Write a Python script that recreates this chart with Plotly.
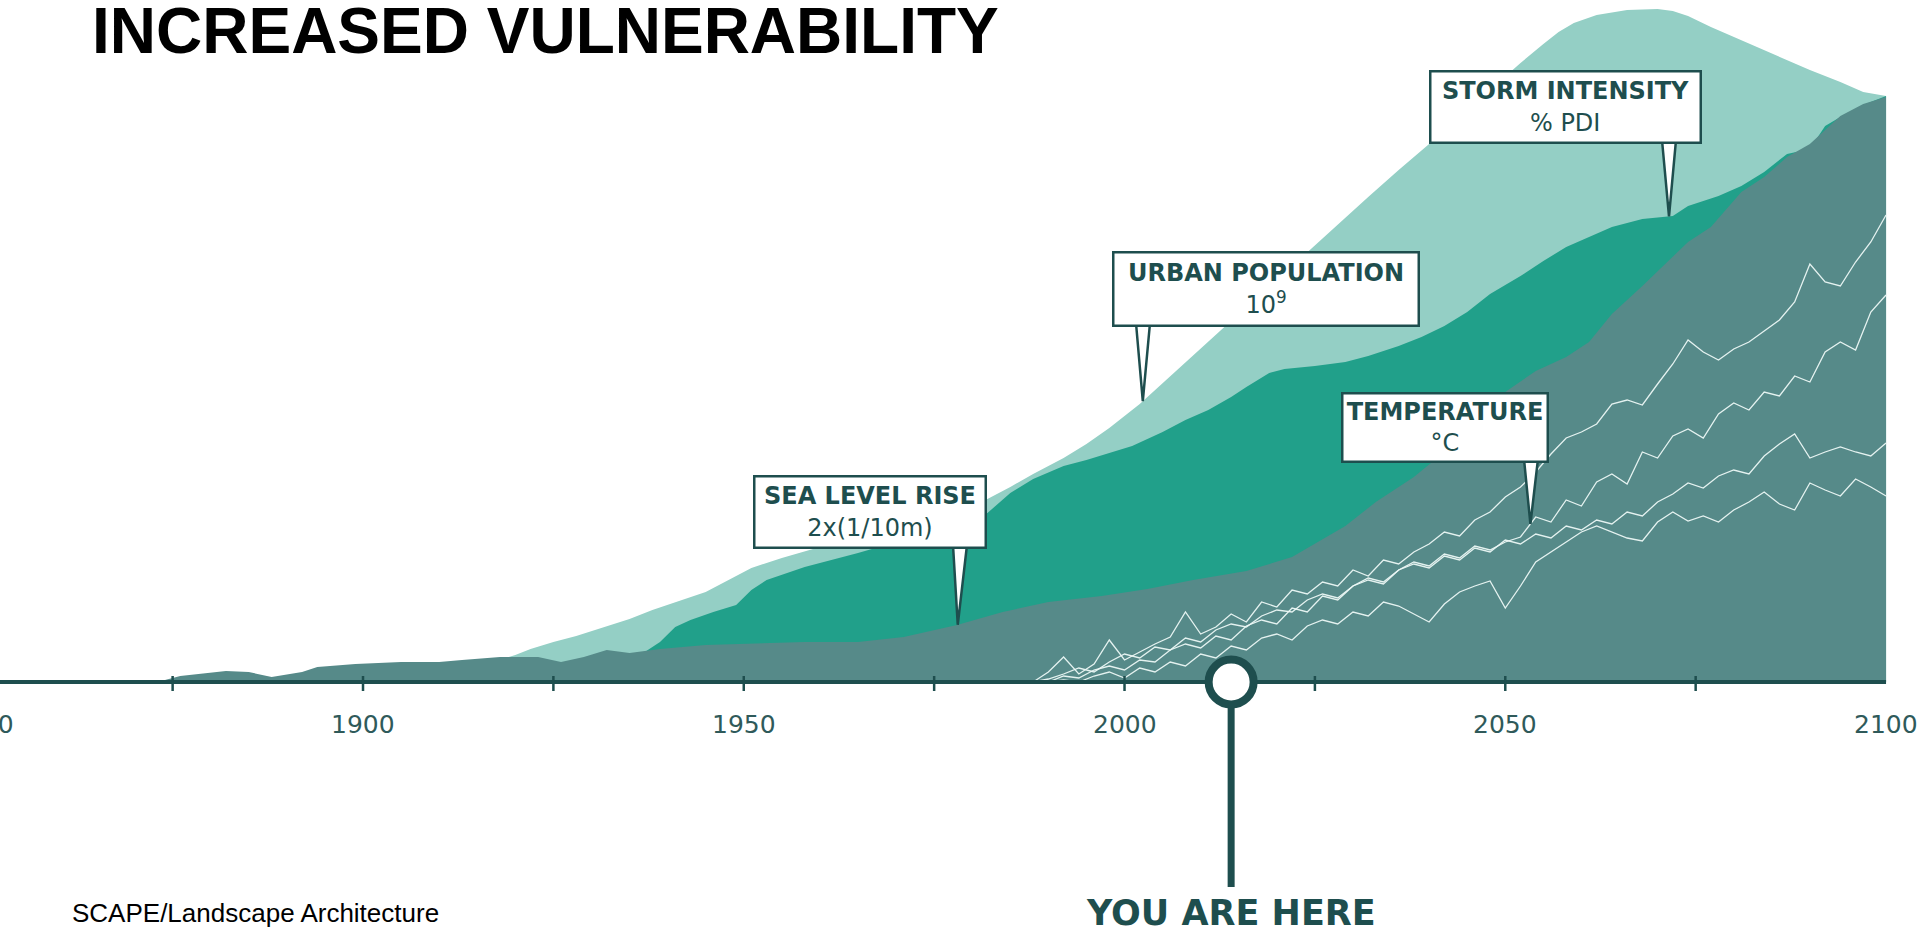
import plotly.graph_objects as go
import numpy as np

# ---------------- data (relative index, 0 = baseline) ----------------
SEA_YEARS = [1873, 1876, 1882, 1885, 1888, 1892, 1894, 1899, 1905, 1910, 1913, 1918, 1923, 1926,
             1929, 1932, 1935, 1939, 1945, 1952, 1958, 1965, 1971, 1978, 1984, 1990, 1997, 2003,
             2009, 2016, 2022, 2029, 2033, 2038, 2042, 2046, 2050, 2054, 2058, 2061, 2064, 2068,
             2071, 2074, 2077, 2081, 2084, 2087, 2090, 2094, 2097, 2100]
SEA_VALUES = [0, 6, 11, 10, 5, 10, 15, 18, 20, 20, 22, 25, 25, 20,
              25, 32, 29, 33, 37, 39, 40, 40, 45, 57, 70, 80, 86, 93,
              102, 111, 125, 156, 180, 205, 230, 262, 290, 311, 325, 340, 368, 396,
              418, 440, 455, 490, 505, 525, 538, 566, 578, 585]

POP_YEARS = [1917, 1920, 1922, 1925, 1928, 1931, 1935, 1938, 1941, 1945, 1948, 1951, 1955, 1960,
             1965, 1970, 1975, 1980, 1982, 1985, 1988, 1992, 1995, 1998, 2002, 2005, 2008, 2012,
             2016, 2020, 2024, 2028, 2032, 2036, 2040, 2044, 2048, 2052, 2055, 2057, 2059, 2062,
             2066, 2070, 2072, 2074, 2077, 2081, 2084, 2087, 2090, 2094, 2097, 2100]
POP_VALUES = [20, 27, 33, 40, 46, 53, 63, 72, 80, 90, 102, 114, 124, 135,
              146, 158, 168, 178, 183, 195, 208, 224, 238, 254, 278, 299, 320, 347,
              375, 402, 430, 457, 485, 512, 538, 565, 592, 619, 638, 650, 659, 667,
              672, 673, 671, 666, 655, 642, 632, 622, 612, 600, 590, 586]

STORM_YEARS = [1937, 1939, 1941, 1943, 1946, 1949, 1951, 1953, 1958, 1965, 1970, 1975, 1980, 1982,
               1985, 1988, 1992, 1995, 1998, 2001, 2005, 2008, 2011, 2014, 2016, 2019, 2021, 2025,
               2029, 2032, 2036, 2039, 2042, 2045, 2048, 2052, 2055, 2058, 2061, 2064, 2068, 2072,
               2074, 2078, 2081, 2084, 2087, 2090, 2092, 2094, 2097, 2100]
STORM_VALUES = [30, 40, 55, 62, 70, 77, 92, 102, 115, 129, 140, 152, 164, 169,
                189, 203, 216, 222, 229, 236, 250, 262, 272, 285, 295, 309, 313, 316,
                320, 326, 336, 345, 356, 370, 388, 406, 421, 435, 445, 455, 463, 466,
                476, 486, 496, 510, 528, 533, 556, 565, 577, 586]

TEMP_YEARS = list(range(1988, 2101, 2))
TEMP_A = [0, 10, 25, 8, 18, 42, 22, 30, 38, 45, 70, 48, 55, 68, 60, 80, 75, 92, 88, 100,
          96, 112, 106, 122, 118, 130, 138, 150, 146, 162, 170, 185, 195, 210, 228, 244, 250, 258,
          278, 282, 277, 298, 318, 342, 330, 322, 333, 340, 351, 362, 380, 418, 400, 396, 420, 440, 467]
TEMP_B = [0, 3, 8, 14, 10, 20, 28, 24, 35, 32, 44, 40, 52, 58, 55, 66, 72, 70, 82, 88,
          84, 96, 102, 98, 112, 120, 116, 128, 124, 136, 132, 140, 145, 165, 160, 182, 176, 200,
          208, 198, 230, 224, 246, 253, 244, 268, 279, 272, 290, 286, 306, 300, 330, 340, 332, 370, 387]
TEMP_C = [0, 0, 6, 4, 12, 16, 12, 22, 20, 32, 38, 34, 46, 42, 56, 62, 58, 74, 70, 86,
          82, 96, 104, 100, 112, 118, 114, 126, 122, 134, 130, 142, 138, 148, 144, 156, 152, 162,
          158, 170, 166, 180, 188, 199, 194, 206, 212, 208, 226, 238, 248, 224, 230, 235, 230, 226, 239]
TEMP_D = [0, 0, 2, 0, 6, 10, 4, 14, 10, 20, 16, 28, 24, 36, 32, 44, 48, 42, 56, 62,
          58, 70, 66, 80, 76, 68, 60, 78, 90, 96, 101, 74, 96, 120, 130, 140, 150, 156,
          150, 144, 141, 160, 170, 161, 166, 160, 172, 180, 190, 178, 172, 199, 192, 186, 203, 195, 186]

TICK_YEARS = [1850, 1875, 1900, 1925, 1950, 1975, 2000, 2025, 2050, 2075]
TICK_LABELS = ["1850", "1900", "1950", "2000", "2050", "2100"]
AXIS_END_YEAR = 2100
NOW_YEAR = 2014

CALLOUT_TITLES = ["SEA LEVEL RISE", "URBAN POPULATION", "TEMPERATURE", "STORM INTENSITY"]
CALLOUT_UNITS = ["2x(1/10m)", "10<sup>9</sup>", "°C", "% PDI"]
CALLOUT_TIP_YEARS = [1978.1, 2002.4, 2053.3, 2071.5]

# ---------------- styling / layout ----------------
W, H = 1920, 934
X0, X1 = 1852.33, 2104.46          # visible year range
Y0, Y1 = -252, 682                 # visible value range (1 unit = 1 px)
PXY = W / (X1 - X0)

C_LIGHT = "#94cfc5"
C_MID = "#21a08a"
C_DARK = "#568a89"
C_INK = "#1e4e4e"
C_TEMP = "rgba(236,248,246,0.95)"


def yr(px):
    return X0 + px / PXY


def val(py):
    return 682 - py


def paper_x(year):
    return (year - X0) / (X1 - X0)


fig = go.Figure()

for xs, ys, col in [(POP_YEARS, POP_VALUES, C_LIGHT),
                    (STORM_YEARS, STORM_VALUES, C_MID),
                    (SEA_YEARS, SEA_VALUES, C_DARK)]:
    fig.add_trace(go.Scatter(x=xs, y=ys, mode="lines", fill="tozeroy",
                             line=dict(width=0, color=col), fillcolor=col,
                             hoverinfo="skip", showlegend=False))

for ys in [TEMP_A, TEMP_B, TEMP_C, TEMP_D]:
    fig.add_trace(go.Scatter(x=TEMP_YEARS, y=ys, mode="lines",
                             line=dict(width=1.3, color=C_TEMP),
                             hoverinfo="skip", showlegend=False))

# axis line and ticks
fig.add_trace(go.Scatter(x=[X0 - 5, AXIS_END_YEAR], y=[0, 0], mode="lines",
                         line=dict(width=4, color=C_INK), hoverinfo="skip", showlegend=False))
tx, ty = [], []
for t in TICK_YEARS:
    tx += [t, t, None]
    ty += [-9, 6, None]
fig.add_trace(go.Scatter(x=tx, y=ty, mode="lines", line=dict(width=2.5, color=C_INK),
                         hoverinfo="skip", showlegend=False))

# YOU ARE HERE marker
fig.add_trace(go.Scatter(x=[NOW_YEAR, NOW_YEAR], y=[-20, -205], mode="lines",
                         line=dict(width=7, color=C_INK), hoverinfo="skip", showlegend=False))
fig.add_trace(go.Scatter(x=[NOW_YEAR], y=[0], mode="markers",
                         marker=dict(size=45, color="white", line=dict(width=8, color=C_INK)),
                         hoverinfo="skip", showlegend=False))

annotations = []
for lab in TICK_LABELS:
    annotations.append(dict(x=paper_x(int(lab)), xref="paper", y=-42, yref="y",
                            text=lab, showarrow=False, xanchor="center", yanchor="middle",
                            font=dict(family="DejaVu Sans", size=25, color="#2f5a5a")))

annotations.append(dict(x=NOW_YEAR, y=-231, xref="x", yref="y", text="<b>YOU ARE HERE</b>",
                        showarrow=False, xanchor="center", yanchor="middle",
                        font=dict(family="DejaVu Sans", size=35, color=C_INK)))

annotations.append(dict(x=90 / W, y=1 - 31 / H, xref="paper", yref="paper",
                        text="<b>INCREASED VULNERABILITY</b>", showarrow=False,
                        xanchor="left", yanchor="middle",
                        font=dict(family="Liberation Sans, Arial", size=64, color="black")))
annotations.append(dict(x=70 / W, y=1 - 913 / H, xref="paper", yref="paper",
                        text="SCAPE/Landscape Architecture", showarrow=False,
                        xanchor="left", yanchor="middle",
                        font=dict(family="Liberation Sans, Arial", size=26, color="black")))

# callout boxes (pixel geometry: left, top, width, height, tail x)
BOXES = [(753, 475, 234, 74, 960),
         (1112, 251, 308, 76, 1143),
         (1341, 392, 208, 71, 1531),
         (1429, 70, 273, 74, 1669)]
SERIES_FOR_TIP = [(SEA_YEARS, SEA_VALUES), (POP_YEARS, POP_VALUES),
                  (TEMP_YEARS, TEMP_B), (STORM_YEARS, STORM_VALUES)]
shapes = []
for (l, t, w, h, tailx), title, unit, tipyr, (sx, sy) in zip(BOXES, CALLOUT_TITLES, CALLOUT_UNITS,
                                                          CALLOUT_TIP_YEARS, SERIES_FOR_TIP):
    tip_v = float(np.interp(tipyr, sx, sy))
    bottom = val(t + h)
    path = (f"M {yr(tailx - 7)},{bottom + 4} L {tipyr},{tip_v} "
            f"L {yr(tailx + 7)},{bottom + 4} Z")
    shapes.append(dict(type="path", path=path, xref="x", yref="y",
                       fillcolor="white", line=dict(color=C_INK, width=2.5), layer="above"))
    annotations.append(dict(x=yr(l), y=val(t), xref="x", yref="y", xanchor="left", yanchor="top",
                            width=w - 5, height=h - 5, align="center", valign="middle",
                            text=f"<b>{title}</b><br>{unit}", showarrow=False,
                            bgcolor="white", bordercolor=C_INK, borderwidth=2.5, borderpad=0,
                            font=dict(family="DejaVu Sans", size=24, color=C_INK)))

fig.update_layout(
    width=W, height=H, margin=dict(l=0, r=0, t=0, b=0),
    paper_bgcolor="white", plot_bgcolor="white",
    xaxis=dict(range=[X0, X1], visible=False, fixedrange=True),
    yaxis=dict(range=[Y0, Y1], visible=False, fixedrange=True),
    annotations=annotations, shapes=shapes, showlegend=False,
)

fig.write_html("out.html", config={"displayModeBar": False},
               post_script="document.body.style.margin='0';document.body.style.overflow='hidden';")
